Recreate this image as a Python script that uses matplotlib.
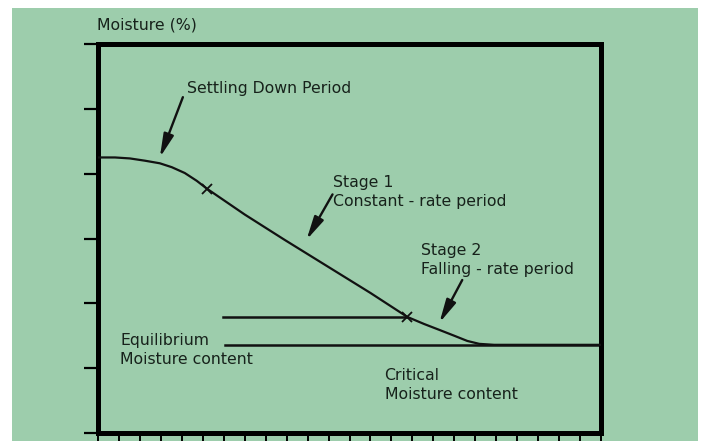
import matplotlib
matplotlib.use('Agg')
import matplotlib.pyplot as plt
from matplotlib.patches import Rectangle

# drying curve (time units vs moisture units)
curve_x = [0.0, 0.81, 1.52, 2.24, 2.95, 3.52, 4.14, 4.71, 5.19, 7.0, 8.9, 11.0, 13.0,
           14.76, 15.57, 16.29, 17.0, 17.62, 18.19, 18.9, 24.0]
curve_y = [4.25, 4.25, 4.235, 4.20, 4.16, 4.10, 4.01, 3.89, 3.77, 3.37, 2.98, 2.56, 2.16,
           1.79, 1.68, 1.59, 1.50, 1.42, 1.375, 1.36, 1.36]
marker_x = [5.19, 14.76]
marker_y = [3.77, 1.79]

critical_level = 1.79
critical_span = [5.95, 14.76]
equilibrium_level = 1.36
equilibrium_span = [6.05, 24.0]

x_ticks = list(range(0, 25))
y_ticks = list(range(0, 7))

GREEN = '#9dcdac'

fig = plt.figure(figsize=(7.04, 4.41), dpi=100)
fig.patch.set_facecolor('white')
fig.patches.append(Rectangle((12 / 704, 0), (698 - 12) / 704, (441 - 8) / 441,
                             transform=fig.transFigure, facecolor=GREEN,
                             edgecolor='none', zorder=-10))

ax = fig.add_axes([98 / 704, 8 / 441, (601 - 98) / 704, (433 - 44) / 441])
ax.set_zorder(5)
ax.set_facecolor(GREEN)
ax.set_xlim(0, 24)
ax.set_ylim(0, 6)
ax.set_xticks(x_ticks)
ax.set_yticks(y_ticks)
ax.set_xticklabels([])
ax.set_yticklabels([])
ax.tick_params(axis='y', direction='out', length=10, width=1.6, color='black')
ax.tick_params(axis='x', direction='out', length=8, width=1.4, color='black')
for s in ax.spines.values():
    s.set_linewidth(3.6)
    s.set_color('black')

ax.plot(curve_x, curve_y, color='#111111', lw=1.6, zorder=3)
ax.plot(marker_x, marker_y, ls='none', marker='x', ms=7, mew=1.3, color='#111111', zorder=4)
ax.plot(critical_span, [critical_level, critical_level], color='#111111', lw=1.8)
ax.plot(equilibrium_span, [equilibrium_level, equilibrium_level], color='#111111', lw=1.8)

fs = 11.3
tc = '#17221b'
ax.text(4.24, 5.32, 'Settling Down Period', fontsize=fs, color=tc, va='center', ha='left')
ax.text(11.19, 3.72, 'Stage 1\nConstant - rate period', fontsize=fs, color=tc,
        va='center', ha='left', linespacing=1.3)
ax.text(15.43, 2.67, 'Stage 2\nFalling - rate period', fontsize=fs, color=tc,
        va='center', ha='left', linespacing=1.3)
ax.text(1.05, 1.28, 'Equilibrium\nMoisture content', fontsize=fs, color=tc,
        va='center', ha='left', linespacing=1.3)
ax.text(13.67, 0.74, 'Critical\nMoisture content', fontsize=fs, color=tc,
        va='center', ha='left', linespacing=1.3)
fig.text(97 / 704, 1 - 25 / 441, 'Moisture (%)', fontsize=fs, color=tc, va='center', ha='left',
         zorder=6)

arrow = dict(arrowstyle='-|>,head_length=1.0,head_width=0.22', lw=1.7, color='#111111',
             mutation_scale=14, shrinkA=0, shrinkB=0)
ax.annotate('', xy=(2.95, 4.25), xytext=(4.05, 5.18), arrowprops=arrow)
ax.annotate('', xy=(9.95, 2.98), xytext=(11.19, 3.68), arrowprops=arrow)
ax.annotate('', xy=(16.29, 1.70), xytext=(17.38, 2.36), arrowprops=arrow)

fig.savefig('out.png', dpi=100)
